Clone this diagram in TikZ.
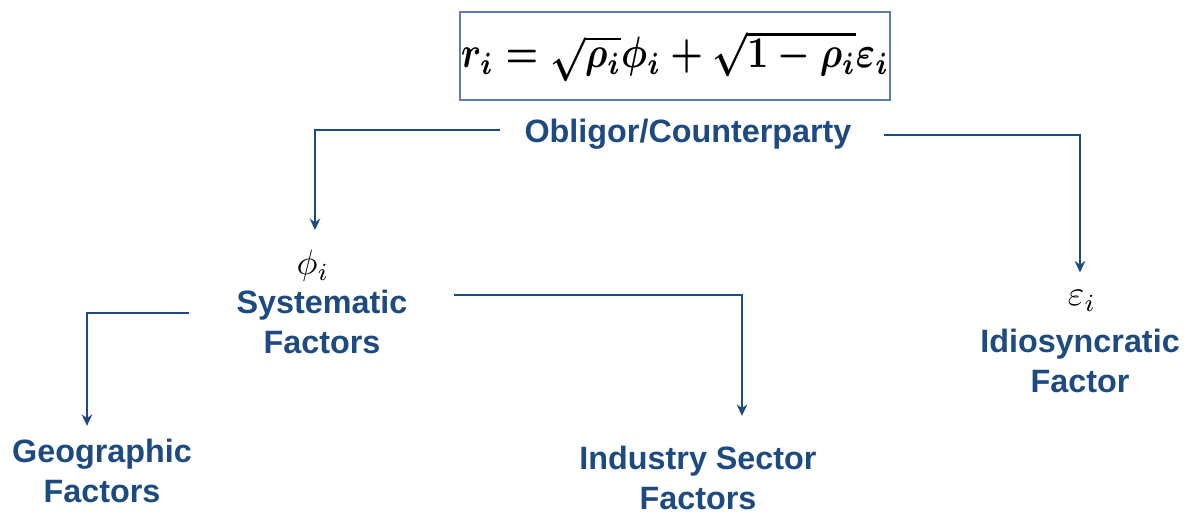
\documentclass[tikz,border=0pt]{standalone}
\usepackage{graphicx}
\usepackage{fontspec}
\setsansfont{Liberation Sans}
\usetikzlibrary{arrows.meta}
\definecolor{navy}{HTML}{1D4A80}
\definecolor{boxline}{HTML}{5E7FA8}
\tikzset{
  lbl/.style={font=\sffamily\bfseries\fontsize{18.4}{22.7}\selectfont, text=navy, align=center, inner sep=0pt},
  sym/.style={inner sep=0pt},
  conn/.style={draw=navy, line width=1.4pt, -{Stealth[length=6.5pt,width=6pt]}},
  eqbox/.style={draw=boxline, line width=0.8pt, minimum width=8.6cm, minimum height=1.76cm, inner sep=0pt}
}
\begin{document}
\begin{tikzpicture}[x=0.02cm,y=-0.02cm]
\useasboundingbox (0,0) rectangle (1184,512);
\node[eqbox] (eq) at (675,56) {\scalebox{2.08}[2.5]{\boldmath$r_i=\sqrt{\rho_i}\phi_i+\sqrt{1-\rho_i}\varepsilon_i$}};
\node[sym] (phi) at (313,266) {\scalebox{2}{$\phi_i$}};
\node[lbl] (obl) at (688,134) {Obligor/Counterparty};
\node[lbl] (sys) at (322,322) {Systematic\\Factors};
\node[sym] (eps) at (1082,301) {\scalebox{2}{$\varepsilon_i$}};
\node[lbl] (idio) at (1080,361) {Idiosyncratic\\Factor};
\node[lbl] (geo) at (102,471) {Geographic\\Factors};
\node[lbl] (ind) at (698,478) {Industry Sector\\Factors};

\draw[conn, shorten >=0.4cm] ([xshift=-0.48cm,yshift=0.08cm]obl.west) -| ([xshift=0.04cm]phi.north);
\draw[conn, shorten >=0.36cm] ([xshift=0.64cm,yshift=-0.02cm]obl.east) -| ([xshift=-0.04cm]eps.north);
\draw[conn, shorten >=0.26cm] ([xshift=-0.94cm,yshift=0.18cm]sys.west) -| ([xshift=-0.3cm]geo.north);
\draw[conn, shorten >=0.6cm] ([xshift=0.92cm,yshift=0.54cm]sys.east) -| ([xshift=0.88cm]ind.north);
\end{tikzpicture}
\end{document}
